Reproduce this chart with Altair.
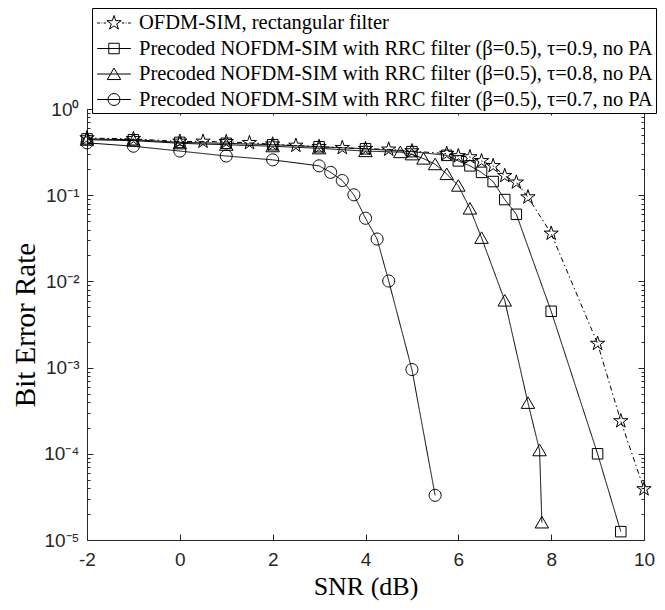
import altair as alt
import pandas as pd
import re

series_names = [
    "OFDM-SIM, rectangular filter",
    "Precoded NOFDM-SIM with RRC filter (β=0.5), τ=0.9, no PA",
    "Precoded NOFDM-SIM with RRC filter (β=0.5), τ=0.8, no PA",
    "Precoded NOFDM-SIM with RRC filter (β=0.5), τ=0.7, no PA",
]

snr_star = [-2, -1, 0, 0.5, 1, 1.5, 2, 2.5, 3, 3.5, 4, 4.5, 5, 5.75, 6, 6.25, 6.5, 6.75, 7, 7.25, 7.5, 8, 9, 9.5, 10]
ber_star = [0.46, 0.45, 0.42, 0.42, 0.416, 0.405, 0.39, 0.377, 0.365, 0.355, 0.346, 0.34, 0.325, 0.303, 0.285,
            0.277, 0.25, 0.219, 0.168, 0.141, 0.095, 0.036, 0.0019, 0.00024, 0.000039]

snr_sq = [-2, -1, 0, 1, 2, 3, 4, 5, 5.75, 6, 6.25, 6.5, 6.75, 7, 7.25, 8, 9, 9.5]
ber_sq = [0.45, 0.44, 0.41, 0.40, 0.385, 0.365, 0.345, 0.32, 0.29, 0.25, 0.219, 0.184, 0.144, 0.089, 0.06,
          0.0045, 0.0001, 0.0000125]

snr_tri = [-2, -1, 0, 1, 2, 3, 4, 4.75, 5, 5.25, 5.5, 5.75, 6, 6.25, 6.5, 7, 7.5, 7.75, 7.8]
ber_tri = [0.44, 0.43, 0.40, 0.385, 0.37, 0.35, 0.325, 0.316, 0.298, 0.266, 0.229, 0.176, 0.129, 0.07, 0.032,
           0.006, 0.00039, 0.00011, 0.000016]

snr_circ = [-2, -1, 0, 1, 2, 3, 3.25, 3.5, 3.75, 4, 4.25, 4.5, 5, 5.5]
ber_circ = [0.405, 0.37, 0.325, 0.285, 0.257, 0.219, 0.184, 0.148, 0.101, 0.054, 0.031, 0.0101, 0.00095, 0.000033]

x_ticks = [-2, 0, 2, 4, 6, 8, 10]
y_ticks = [1e-5, 1e-4, 1e-3, 1e-2, 1e-1, 1]
y_minor = [m * 10.0 ** e for e in range(-5, 0) for m in range(2, 10)]

rows = []
for name, xs_, ys_ in zip(series_names, [snr_star, snr_sq, snr_tri, snr_circ], [ber_star, ber_sq, ber_tri, ber_circ]):
    for x, y in zip(xs_, ys_):
        rows.append({"series": name, "snr": x, "ber": y})
df = pd.DataFrame(rows)

# marker shapes (unit = sqrt(size)/2)
STAR = "M0,-1L0.2245,-0.309L0.951,-0.309L0.363,0.118L0.588,0.809L0,0.382L-0.588,0.809L-0.363,0.118L-0.951,-0.309L-0.2245,-0.309Z"
SQUARE = "M-0.7,-0.7L0.7,-0.7L0.7,0.7L-0.7,0.7Z"
TRI = "M0,-0.8L0.9,0.74L-0.9,0.74Z"
CIRC = "M0.8,0A0.8,0.8,0,1,1,-0.8,0A0.8,0.8,0,1,1,0.8,0Z"
marker_paths = [STAR, SQUARE, TRI, CIRC]


def scale_path(p, k):
    return re.sub(r"-?\d+\.?\d*", lambda m: f"{float(m.group()) * k:.4f}", p)


k = 7.5 / 11.25
LSTAR = ("M-1.5,0L-1.25,0M-1.12,0L-1.05,0M-0.92,0L-0.7,0M0.7,0L0.92,0M1.05,0L1.12,0M1.25,0L1.5,0"
         + scale_path(STAR, k))
LSQ = "M-1.5,0L1.5,0" + scale_path(SQUARE, k)
LTRI = "M-1.5,0L1.5,0" + scale_path(TRI, k)
LCIRC = "M-1.5,0L1.5,0M0.533,0A0.533,0.533,0,1,1,-0.533,0A0.533,0.533,0,1,1,0.533,0Z"
legend_paths = [LSTAR, LSQ, LTRI, LCIRC]

axis_color = "#262626"
tick_font = "Liberation Sans"
serif = "Liberation Serif"

xs = alt.Scale(domain=[-2, 10], nice=False, zero=False)
ys = alt.Scale(type="log", domain=[1e-5, 1], nice=False)

sup = {0: "⁰", -1: "⁻¹", -2: "⁻²", -3: "⁻³", -4: "⁻⁴", -5: "⁻⁵"}
expr = "'10' + ("
for e, s in sup.items():
    expr += f"round(log(datum.value)/LN10) == {e} ? '{s}' : "
expr += "'')"

common_axis = dict(domain=False, grid=False, tickColor=axis_color, tickWidth=1)

x_bottom = alt.Axis(values=x_ticks, orient="bottom", offset=-6, tickSize=6, labelFont=tick_font,
                    labelFontSize=19, labelColor=axis_color, labelPadding=10, labelFlush=False,
                    labelOverlap=False,
                    labelExpr="datum.value < 0 ? '-' + abs(datum.value) : '' + datum.value",
                    title="SNR (dB)", titleFont=serif, titleFontSize=26, titleFontWeight="normal",
                    titleColor="black", titlePadding=4, **common_axis)
y_left = alt.Axis(values=y_ticks, orient="left", offset=-6, tickSize=6, labelFont=tick_font,
                  labelFontSize=19, labelColor=axis_color, labelPadding=8, labelExpr=expr,
                  labelFlush=False, labelOverlap=False,
                  title="Bit Error Rate", titleFont=serif, titleFontSize=29, titleFontWeight="normal",
                  titleColor="black", titlePadding=3, **common_axis)
x_top = alt.Axis(values=x_ticks, orient="top", offset=-6, tickSize=6, labels=False, title=None, **common_axis)
y_right = alt.Axis(values=y_ticks, orient="right", offset=-6, tickSize=6, labels=False, title=None, **common_axis)
y_left_minor = alt.Axis(values=y_minor, orient="left", offset=-3, tickSize=3, labels=False, title=None, **common_axis)
y_right_minor = alt.Axis(values=y_minor, orient="right", offset=-3, tickSize=3, labels=False, title=None, **common_axis)

base = alt.Chart(df)

lines = base.mark_line(color="black", strokeWidth=1).encode(
    x=alt.X("snr:Q", scale=xs, axis=x_bottom),
    y=alt.Y("ber:Q", scale=ys, axis=y_left),
    detail="series:N",
    strokeDash=alt.StrokeDash("series:N", scale=alt.Scale(domain=series_names,
                              range=[[5, 3, 1.5, 3], [1, 0], [1, 0], [1, 0]]), legend=None),
)

points = base.mark_point(filled=False, color="black", strokeWidth=1, size=225, opacity=1).encode(
    x=alt.X("snr:Q", scale=xs, axis=x_top),
    y=alt.Y("ber:Q", scale=ys, axis=y_right),
    shape=alt.Shape("series:N", scale=alt.Scale(domain=series_names, range=marker_paths), legend=None),
)

ghost_legend = base.mark_point(filled=False, color="black", strokeWidth=1, size=506, opacity=0).encode(
    x=alt.X("snr:Q", scale=xs, axis=None),
    y=alt.Y("ber:Q", scale=ys, axis=y_left_minor),
    shape=alt.Shape("series:N", scale=alt.Scale(domain=series_names, range=legend_paths),
                    legend=alt.Legend(orient="none", legendX=5, legendY=-101, title=None,
                                      labelFont=serif, labelFontSize=20.5, labelColor="black",
                                      labelLimit=1000, symbolSize=506, symbolStrokeWidth=1,
                                      symbolStrokeColor="black", symbolFillColor="transparent",
                                      symbolOpacity=1, strokeColor="black", fillColor="white",
                                      padding=3, rowPadding=2.5, symbolOffset=7, labelOffset=13)),
)

ghost_minor = base.mark_point(opacity=0).encode(
    x=alt.X("snr:Q", scale=xs, axis=None),
    y=alt.Y("ber:Q", scale=ys, axis=y_right_minor),
)

chart = alt.layer(lines, points, ghost_legend, ghost_minor).resolve_scale(
    shape="independent", strokeDash="independent"
).resolve_axis(x="independent", y="independent").properties(
    width=557, height=431,
    autosize=alt.AutoSizeParams(type="none"),
    padding={"left": 79, "top": 101, "right": 13, "bottom": 62},
    background="white",
).configure_view(stroke=axis_color, strokeWidth=1)

chart.save("out.html", embed_options={"renderer": "svg", "actions": False})
